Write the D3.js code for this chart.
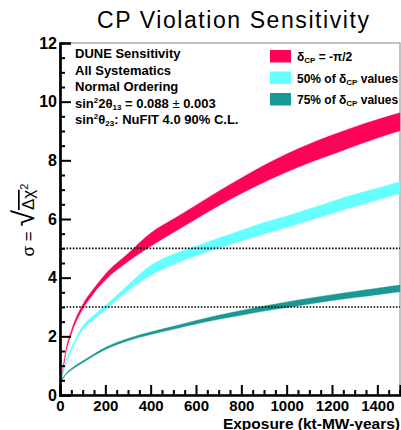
<!DOCTYPE html>
<html>
<head>
<meta charset="utf-8">
<script src="https://cdn.jsdelivr.net/npm/d3@7"></script>
<style>
  body { margin: 0; background: #fff; }
  svg text { font-family: "Liberation Sans", Arial, sans-serif; }
</style>
</head>
<body>
<div id="wrapper"></div>
<script>
// exposure points (kt-MW-years)
const exposure = [7, 25, 50, 100, 150, 200, 300, 400, 500, 600, 700, 800, 900, 1000, 1100, 1200, 1300, 1400, 1500];

// delta_CP = -pi/2 band
const redLo = [0.48, 1.40, 2.08, 2.92, 3.48, 3.92, 4.55, 5.07, 5.54, 6.00, 6.45, 6.87, 7.25, 7.60, 7.92, 8.20, 8.49, 8.76, 9.01];
const redHi = [0.55, 1.50, 2.20, 3.08, 3.64, 4.12, 4.82, 5.52, 6.00, 6.47, 6.95, 7.40, 7.83, 8.22, 8.56, 8.86, 9.14, 9.39, 9.62];

// 50% of delta_CP values band
const cyanLo = [0.50, 1.05, 1.50, 2.22, 2.58, 2.90, 3.55, 4.08, 4.45, 4.75, 5.00, 5.25, 5.49, 5.71, 5.95, 6.19, 6.43, 6.65, 6.88];
const cyanHi = [0.60, 1.15, 1.60, 2.35, 2.72, 3.05, 3.75, 4.42, 4.80, 5.07, 5.35, 5.62, 5.88, 6.10, 6.35, 6.60, 6.84, 7.05, 7.27];

// 75% of delta_CP values band
const tealLo = [0.48, 0.68, 0.85, 1.10, 1.34, 1.55, 1.85, 2.06, 2.24, 2.42, 2.58, 2.72, 2.86, 2.98, 3.10, 3.22, 3.32, 3.42, 3.52];
const tealHi = [0.52, 0.72, 0.90, 1.16, 1.40, 1.62, 1.93, 2.15, 2.34, 2.54, 2.72, 2.88, 3.03, 3.17, 3.30, 3.42, 3.53, 3.64, 3.75];

const xTicks = [0, 200, 400, 600, 800, 1000, 1200, 1400];
const yTicks = [0, 2, 4, 6, 8, 10, 12];
const refLines = [3, 5];

const bands = [
  { name: "red", lo: redLo, hi: redHi, color: "#fe0259" },
  { name: "cyan", lo: cyanLo, hi: cyanHi, color: "#66ffff" },
  { name: "teal", lo: tealLo, hi: tealHi, color: "#1a9893" },
];

let dimensions = {
  width: 401,
  height: 430,
  marginTop: 43,
  marginRight: 1,
  marginBottom: 35,
  marginLeft: 60
};
dimensions.boundedWidth = dimensions.width - dimensions.marginLeft - dimensions.marginRight;
dimensions.boundedHeight = dimensions.height - dimensions.marginTop - dimensions.marginBottom;

const wrapper = d3.select("#wrapper")
  .append("svg")
    .attr("width", dimensions.width)
    .attr("height", dimensions.height);

const bounds = wrapper.append("g")
  .attr("transform", `translate(${dimensions.marginLeft},${dimensions.marginTop})`);

const xScale = d3.scaleLinear()
  .domain([0, 1500])
  .range([0, dimensions.boundedWidth]);

const yScale = d3.scaleLinear()
  .domain([0, 12])
  .range([dimensions.boundedHeight, 0]);

// frame
bounds.append("rect")
  .attr("width", dimensions.boundedWidth)
  .attr("height", dimensions.boundedHeight)
  .attr("fill", "none")
  .attr("stroke", "#888")
  .attr("stroke-width", 1);

// bands
bands.forEach(b => {
  const area = d3.area()
    .x((d, i) => xScale(exposure[i]))
    .y0((d, i) => yScale(b.lo[i]))
    .y1((d, i) => yScale(b.hi[i]))
    .curve(d3.curveMonotoneX);
  bounds.append("path")
    .datum(exposure)
    .attr("d", area)
    .attr("fill", b.color)
    .attr("stroke", b.color)
    .attr("stroke-width", 0.4);
});

// dotted reference lines
bounds.selectAll(".ref")
  .data(refLines)
  .enter().append("line")
    .attr("x1", 0)
    .attr("x2", dimensions.boundedWidth)
    .attr("y1", d => yScale(d))
    .attr("y2", d => yScale(d))
    .attr("stroke", "#000")
    .attr("stroke-width", 1.6)
    .attr("stroke-dasharray", "1.6,1.6");

// axes
const minorX = d3.range(0, 1501, 50).filter(v => v % 200 !== 0);
const minorY = d3.range(0, 12.01, 0.5).filter(v => v % 2 !== 0);

const xAxis = bounds.append("g")
  .attr("transform", `translate(0,${dimensions.boundedHeight})`)
  .call(d3.axisBottom(xScale).tickValues(xTicks).tickSize(-10).tickPadding(5).tickFormat(d3.format("d")));
bounds.append("g")
  .attr("transform", `translate(0,${dimensions.boundedHeight})`)
  .call(d3.axisBottom(xScale).tickValues(minorX).tickSize(-5).tickFormat(""));

const yAxis = bounds.append("g")
  .call(d3.axisLeft(yScale).tickValues(yTicks).tickSize(-11).tickPadding(3));
bounds.append("g")
  .call(d3.axisLeft(yScale).tickValues(minorY).tickSize(-5).tickFormat(""));

bounds.selectAll(".domain")
  .attr("stroke", "#000")
  .attr("stroke-width", 2.2);
bounds.selectAll(".tick line")
  .attr("stroke", "#000")
  .attr("stroke-width", 2);
bounds.selectAll(".tick text")
  .attr("fill", "#000")
  .style("font-weight", "bold");
yAxis.selectAll(".tick text").style("font-size", "16px");
xAxis.selectAll(".tick text").style("font-size", "15px");

// title
wrapper.append("text")
  .attr("x", 233)
  .attr("y", 28)
  .attr("text-anchor", "middle")
  .attr("textLength", 272)
  .attr("lengthAdjust", "spacing")
  .style("font-size", "23px")
  .text("CP Violation Sensitivity");

// x label
wrapper.append("text")
  .attr("x", 400)
  .attr("y", 428.5)
  .attr("text-anchor", "end")
  .style("font-size", "15.5px")
  .style("font-weight", "bold")
  .text("Exposure (kt-MW-years)");

// y label
const yLabel = wrapper.append("text")
  .attr("transform", "translate(34,220) rotate(-90)")
  .attr("text-anchor", "middle")
  .style("font-size", "17px");
yLabel.append("tspan").text("σ = ");
yLabel.append("tspan").style("font-size", "30px").text("√");
yLabel.append("tspan").style("text-decoration", "overline").text("Δχ");
yLabel.append("tspan").attr("baseline-shift", "super").style("font-size", "11px").text("2");

// info text
const info = wrapper.append("g")
  .attr("transform", "translate(75,0)")
  .style("font-size", "13px")
  .style("font-weight", "bold");
info.append("text").attr("y", 58).text("DUNE Sensitivity");
info.append("text").attr("y", 74.5).text("All Systematics");
info.append("text").attr("y", 91).text("Normal Ordering");
const l4 = info.append("text").attr("y", 107.5);
l4.append("tspan").text("sin");
l4.append("tspan").attr("baseline-shift", "5").style("font-size", "8px").text("2");
l4.append("tspan").text("2θ");
l4.append("tspan").attr("baseline-shift", "-2").style("font-size", "8px").text("13");
l4.append("tspan").text(" = 0.088 ");
l4.append("tspan").style("font-weight", "normal").text("±");
l4.append("tspan").text(" 0.003");
const l5 = info.append("text").attr("y", 124);
l5.append("tspan").text("sin");
l5.append("tspan").attr("baseline-shift", "5").style("font-size", "8px").text("2");
l5.append("tspan").text("θ");
l5.append("tspan").attr("baseline-shift", "-2").style("font-size", "8px").text("23");
l5.append("tspan").text(": NuFIT 4.0 90% C.L.");

// legend
const legendItems = [
  { color: bands[0].color, pre: "δ", post: " = -π/2" },
  { color: bands[1].color, pre: "50% of δ", post: " values" },
  { color: bands[2].color, pre: "75% of δ", post: " values" },
];
const legend = wrapper.append("g")
  .attr("transform", "translate(270,50)");
const rows = legend.selectAll("g")
  .data(legendItems)
  .enter().append("g")
    .attr("transform", (d, i) => `translate(0,${i * 21.5})`);
rows.append("rect")
  .attr("width", 21)
  .attr("height", 12.5)
  .attr("fill", d => d.color);
const lt = rows.append("text")
  .attr("x", 27)
  .attr("y", 11)
  .style("font-size", "12px")
  .style("font-weight", "bold");
lt.append("tspan").text(d => d.pre);
lt.append("tspan").attr("baseline-shift", "-2").style("font-size", "8px").text("CP");
lt.append("tspan").text(d => d.post);
</script>
</body>
</html>
